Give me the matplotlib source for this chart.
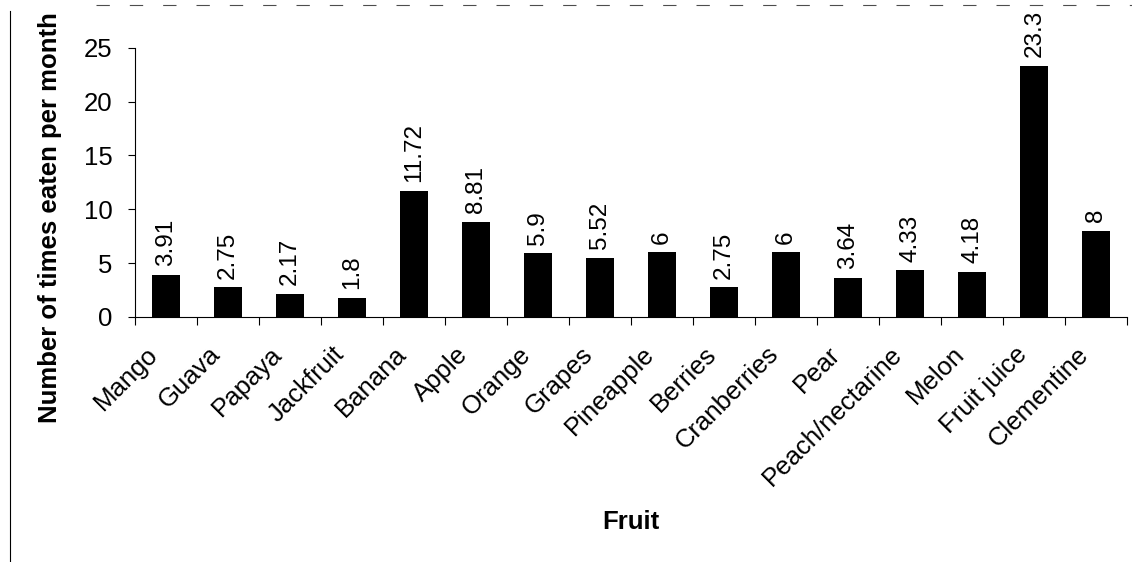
import matplotlib.pyplot as plt
import matplotlib.transforms as mtransforms
import numpy as np

# 数据
fruits = ['Mango', 'Guava', 'Papaya', 'Jackfruit', 'Banana', 'Apple', 'Orange',
          'Grapes', 'Pineapple', 'Berries', 'Cranberries', 'Pear',
          'Peach/nectarine', 'Melon', 'Fruit juice', 'Clementine']
times = [3.91, 2.75, 2.17, 1.8, 11.72, 8.81, 5.9, 5.52, 6, 2.75, 6, 3.64,
         4.33, 4.18, 23.3, 8]
value_labels = ['3.91', '2.75', '2.17', '1.8', '11.72', '8.81', '5.9', '5.52',
                '6', '2.75', '6', '3.64', '4.33', '4.18', '23.3', '8']

plt.rcParams['font.family'] = ['Liberation Sans', 'DejaVu Sans']

fig = plt.figure(figsize=(11.32, 5.62), dpi=100)
ax = fig.add_axes([0.119, 0.436, 0.877, 0.479])

x = np.arange(len(fruits))
ax.bar(x, times, width=0.45, color='black')

# 数值标签（竖排）
for xi, v, s in zip(x, times, value_labels):
    ax.text(xi, v + 0.8, s, rotation=90, ha='center', va='bottom', fontsize=17.5)

ax.set_xlim(-0.5, len(fruits) - 0.5)
ax.set_ylim(0, 25)
ax.set_yticks(range(0, 26, 5))
ax.tick_params(axis='y', labelsize=18.5, length=5, direction='out', pad=11)

# x轴刻度在类别之间
ax.set_xticks(np.arange(-0.5, len(fruits), 1), minor=False)
ax.set_xticklabels([])
ax.set_xticks(x, minor=True)
ax.set_xticklabels(fruits, minor=True, rotation=45, ha='right', va='top',
                   rotation_mode='anchor', fontsize=18.5)
ax.tick_params(axis='x', which='major', length=6, direction='out')
ax.tick_params(axis='x', which='minor', length=0, pad=18)
shift = mtransforms.ScaledTranslation(-20 / 100, 0, fig.dpi_scale_trans)
for lab in ax.get_xticklabels(minor=True):
    lab.set_transform(lab.get_transform() + shift)

ax.spines['top'].set_visible(False)
ax.spines['right'].set_visible(False)

fig.text(0.044, 0.612, 'Number of times eaten per month', fontsize=18.5,
         fontweight='bold', rotation=90, ha='center', va='center')
fig.text(0.557, 0.071, 'Fruit', fontsize=18.5, fontweight='bold',
         ha='center', va='center')

# 扫描边框线
fig.add_artist(plt.Line2D([0.009, 0.009], [0.0, 0.98], color='black', lw=0.8))
fig.add_artist(plt.Line2D([0.085, 1.0], [0.991, 0.991], color='0.3', lw=0.8,
                          linestyle=(0, (12, 18))))

plt.savefig('out.png', dpi=100)
